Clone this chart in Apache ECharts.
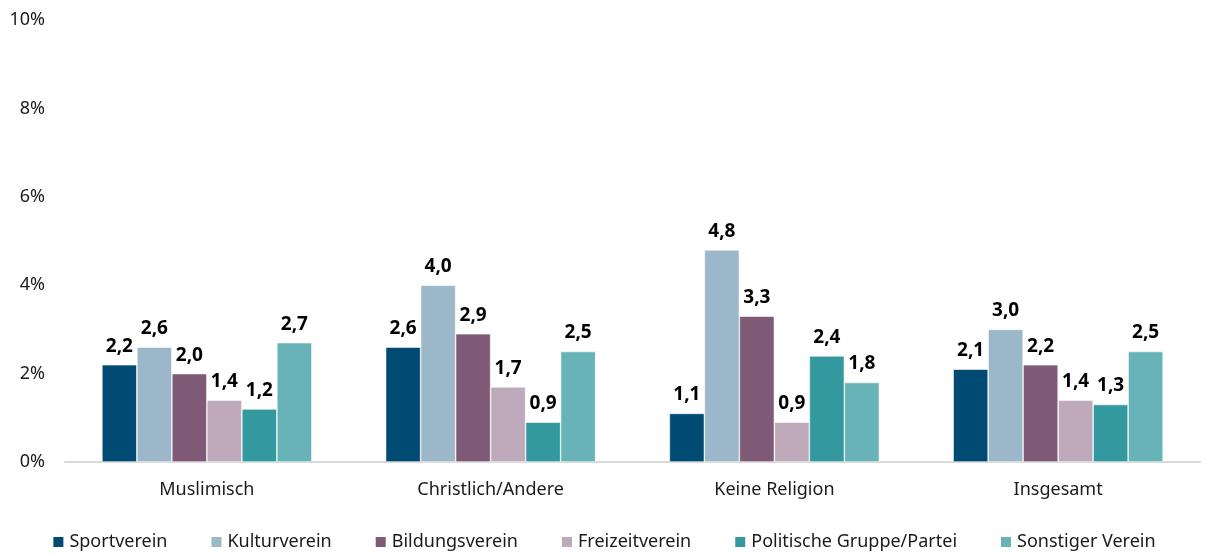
<!DOCTYPE html>
<html>
<head>
<meta charset="utf-8">
<script src="https://cdn.jsdelivr.net/npm/echarts@6/dist/echarts.min.js"></script>
<style>
  html, body { margin: 0; padding: 0; background: #ffffff; }
  #chart { width: 1207px; height: 556px; }
</style>
</head>
<body>
<div id="chart"></div>
<script>
// Religionsgruppen auf der Kategorienachse
const categories = ['Muslimisch', 'Christlich/Andere', 'Keine Religion', 'Insgesamt'];

// Anteil je Vereinsart in Prozent
const sportverein   = [2.2, 2.6, 1.1, 2.1];
const kulturverein  = [2.6, 4.0, 4.8, 3.0];
const bildungsverein = [2.0, 2.9, 3.3, 2.2];
const freizeitverein = [1.4, 1.7, 0.9, 1.4];
const politisch     = [1.2, 0.9, 2.4, 1.3];
const sonstiger     = [2.7, 2.5, 1.8, 2.5];

const seriesNames = ['Sportverein', 'Kulturverein', 'Bildungsverein', 'Freizeitverein', 'Politische Gruppe/Partei', 'Sonstiger Verein'];
const seriesData = [sportverein, kulturverein, bildungsverein, freizeitverein, politisch, sonstiger];
const colors = ['#004a73', '#9bb7c9', '#7f5a77', '#bfaabb', '#34989f', '#67b3b8'];

const FONT = '"Noto Sans", "Open Sans", sans-serif';

const chart = echarts.init(document.getElementById('chart'), null, { renderer: 'canvas' });

chart.setOption({
  animation: false,
  backgroundColor: '#ffffff',
  color: colors,
  textStyle: { fontFamily: FONT },
  grid: { left: 65, right: 7, top: 20, bottom: 94, containLabel: false },
  legend: {
    bottom: 0,
    left: 'center',
    itemWidth: 12,
    itemHeight: 12,
    itemGap: 42,
    icon: 'rect',
    textStyle: { fontFamily: FONT, fontSize: 18, color: '#1a1a1a' },
    data: seriesNames
  },
  xAxis: {
    type: 'category',
    data: categories,
    axisTick: { show: false },
    axisLine: { show: true, lineStyle: { color: '#d9d9d9', width: 2 } },
    axisLabel: { fontFamily: FONT, fontSize: 18, color: '#1a1a1a', margin: 19 }
  },
  yAxis: {
    type: 'value',
    min: 0,
    max: 10,
    interval: 2,
    splitLine: { show: false },
    axisLine: { show: false },
    axisTick: { show: false },
    axisLabel: {
      fontFamily: FONT, fontSize: 18, color: '#1a1a1a', margin: 20,
      formatter: v => v + '%'
    }
  },
  series: seriesNames.map((name, i) => ({
    name,
    type: 'bar',
    data: seriesData[i],
    barGap: '0%',
    barCategoryGap: '26%',
    itemStyle: { color: colors[i], borderColor: '#ffffff', borderWidth: 0.6 },
    label: {
      show: true,
      position: 'top',
      distance: 9,
      fontFamily: FONT,
      fontSize: 19,
      fontWeight: 'bold',
      color: '#000000',
      formatter: p => p.value.toFixed(1).replace('.', ',')
    }
  }))
});
</script>
</body>
</html>
